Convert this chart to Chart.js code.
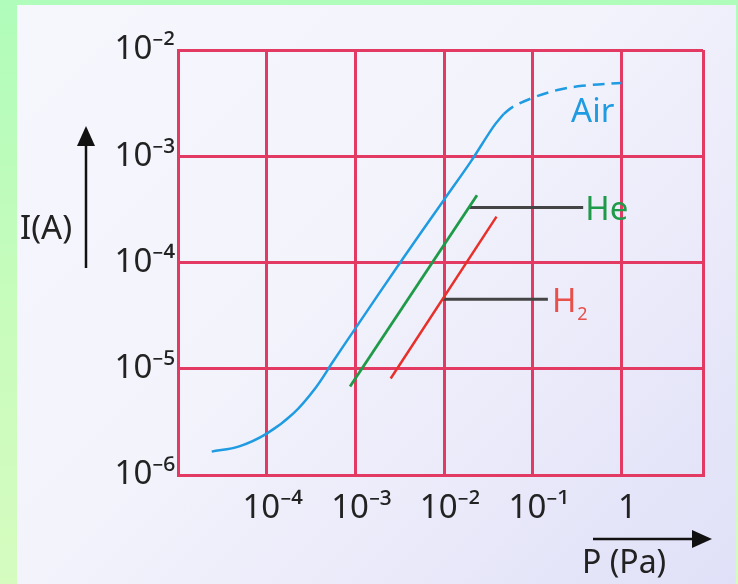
<!DOCTYPE html>
<html><head><meta charset="utf-8">
<script src="https://cdn.jsdelivr.net/npm/chart.js@4"></script>
<style>
html,body{margin:0;padding:0;width:738px;height:584px;overflow:hidden;}
body{background:linear-gradient(180deg,#b0fcba 0%,#c6fcbc 50%,#d6fcc0 100%);position:relative;}
#panel{position:absolute;left:17px;top:5px;width:719px;height:579px;background:linear-gradient(135deg,#f6f6fd 0%,#f3f3fc 45%,#e0e0f8 100%);}
#wrap{position:absolute;left:0;top:0;width:738px;height:584px;}
</style></head>
<body><div id="panel"></div><div id="wrap"><canvas id="c" width="738" height="584"></canvas></div>
<script>
// ---- data ----
const xTickValues = [1e-5, 1e-4, 1e-3, 1e-2, 1e-1, 1, 8.3];
const xTickLabels = ['', '10⁻⁴', '10⁻³', '10⁻²', '10⁻¹', '1', ''];
const yTickValues = [1e-6, 1e-5, 1e-4, 1e-3, 1e-2];
const yTickLabels = ['10⁻⁶', '10⁻⁵', '10⁻⁴', '10⁻³', '10⁻²'];

const airSolidP = [2.4e-5, 4.9e-5, 1e-4, 2e-4, 3.55e-4, 5.6e-4, 1e-3, 3.2e-3, 1e-2, 2e-2, 3.6e-2, 4.7e-2];
const airSolidI = [1.66e-6, 1.86e-6, 2.45e-6, 3.8e-6, 6.6e-6, 1.17e-5, 2.4e-5, 1e-4, 3.9e-4, 8.9e-4, 1.9e-3, 2.5e-3];
const airDashP = [4.7e-2, 5.9e-2, 0.1, 0.19, 0.36, 1];
const airDashI = [2.5e-3, 2.9e-3, 3.55e-3, 4.2e-3, 4.6e-3, 4.9e-3];
const heP = [8.7e-4, 2.35e-2];
const heI = [6.8e-6, 4.3e-4];
const h2P = [2.5e-3, 3.9e-2];
const h2I = [8.1e-6, 2.7e-4];
const heLeaderP = [1.92e-2, 0.37];
const heLeaderI = [3.3e-4, 3.3e-4];
const h2LeaderP = [9.5e-3, 0.148];
const h2LeaderI = [4.5e-5, 4.5e-5];

const pts = (xs, ys) => xs.map((x, i) => ({x: x, y: ys[i]}));

const GRID = '#e23a62';
const FONT = "'Noto Sans', sans-serif";

const annot = {
  id: 'annot',
  afterDraw(chart) {
    const ctx = chart.ctx, xs = chart.scales.x, ys = chart.scales.y;
    ctx.save();
    // axis arrows
    ctx.strokeStyle = '#111'; ctx.fillStyle = '#111'; ctx.lineWidth = 2.5;
    ctx.beginPath(); ctx.moveTo(86, 268); ctx.lineTo(86, 140); ctx.stroke();
    ctx.beginPath(); ctx.moveTo(86, 126); ctx.lineTo(77, 146); ctx.lineTo(95, 146); ctx.closePath(); ctx.fill();
    ctx.beginPath(); ctx.moveTo(593, 539); ctx.lineTo(698, 539); ctx.stroke();
    ctx.beginPath(); ctx.moveTo(712, 539); ctx.lineTo(692, 530); ctx.lineTo(692, 548); ctx.closePath(); ctx.fill();
    // axis titles
    ctx.fillStyle = '#222';
    ctx.textBaseline = 'alphabetic'; ctx.textAlign = 'left';
    ctx.font = '33px ' + FONT;
    ctx.fillText('I(A)', 20, 239);
    ctx.font = '32px ' + FONT;
    ctx.fillText('P (Pa)', 582, 573);
    // series labels
    ctx.font = '33px ' + FONT;
    ctx.fillStyle = '#1f9be2';
    ctx.fillText('Air', xs.getPixelForValue(0.27), ys.getPixelForValue(2.1e-3));
    ctx.fillStyle = '#1e9a48';
    ctx.textBaseline = 'middle';
    ctx.fillText('He', xs.getPixelForValue(heLeaderP[1]) + 2, ys.getPixelForValue(heLeaderI[1]) + 3);
    ctx.fillStyle = '#e8504a';
    const hx = xs.getPixelForValue(h2LeaderP[1]) + 4, hy = ys.getPixelForValue(h2LeaderI[1]) + 3;
    ctx.fillText('H', hx, hy);
    const hw = ctx.measureText('H').width;
    ctx.font = '18px ' + FONT;
    ctx.fillText('2', hx + hw + 1, hy + 13);
    ctx.restore();
  }
};

new Chart(document.getElementById('c'), {
  type: 'line',
  data: {
    datasets: [
      {data: pts(airSolidP, airSolidI), borderColor: '#1f9be2', borderWidth: 2.5, pointRadius: 0, tension: 0.35},
      {data: pts(airDashP, airDashI), borderColor: '#1f9be2', borderWidth: 2.5, pointRadius: 0, borderDash: [12, 7], tension: 0.35},
      {data: pts(heP, heI), borderColor: '#1e9a48', borderWidth: 2.8, pointRadius: 0},
      {data: pts(h2P, h2I), borderColor: '#e8302a', borderWidth: 2.5, pointRadius: 0},
      {data: pts(heLeaderP, heLeaderI), borderColor: '#444', borderWidth: 3, pointRadius: 0},
      {data: pts(h2LeaderP, h2LeaderI), borderColor: '#444', borderWidth: 3, pointRadius: 0}
    ]
  },
  options: {
    responsive: false, animation: false, devicePixelRatio: 1,
    layout: {padding: {top: 50, right: 35, left: 0, bottom: 0}},
    plugins: {legend: {display: false}, tooltip: {enabled: false}},
    scales: {
      x: {
        type: 'logarithmic', min: xTickValues[0], max: xTickValues[xTickValues.length - 1],
        afterBuildTicks: s => { s.ticks = xTickValues.map(v => ({value: v})); },
        afterFit: s => { s.height = 109; },
        grid: {color: GRID, lineWidth: 3, drawTicks: false},
        border: {display: true, color: GRID, width: 3},
        ticks: {autoSkip: false, maxRotation: 0, padding: 14, labelOffset: 6, color: '#222', font: {family: FONT, size: 33},
          callback: (v, i) => xTickLabels[i]}
      },
      y: {
        type: 'logarithmic', min: yTickValues[0], max: yTickValues[yTickValues.length - 1],
        afterBuildTicks: s => { s.ticks = yTickValues.map(v => ({value: v})); },
        afterFit: s => { s.width = 178; },
        grid: {color: GRID, lineWidth: 3, drawTicks: false},
        border: {display: true, color: GRID, width: 3},
        ticks: {autoSkip: false, padding: 3, color: '#222', font: {family: FONT, size: 33},
          callback: (v, i) => yTickLabels[i]}
      }
    }
  },
  plugins: [annot]
});
</script>
</body></html>
